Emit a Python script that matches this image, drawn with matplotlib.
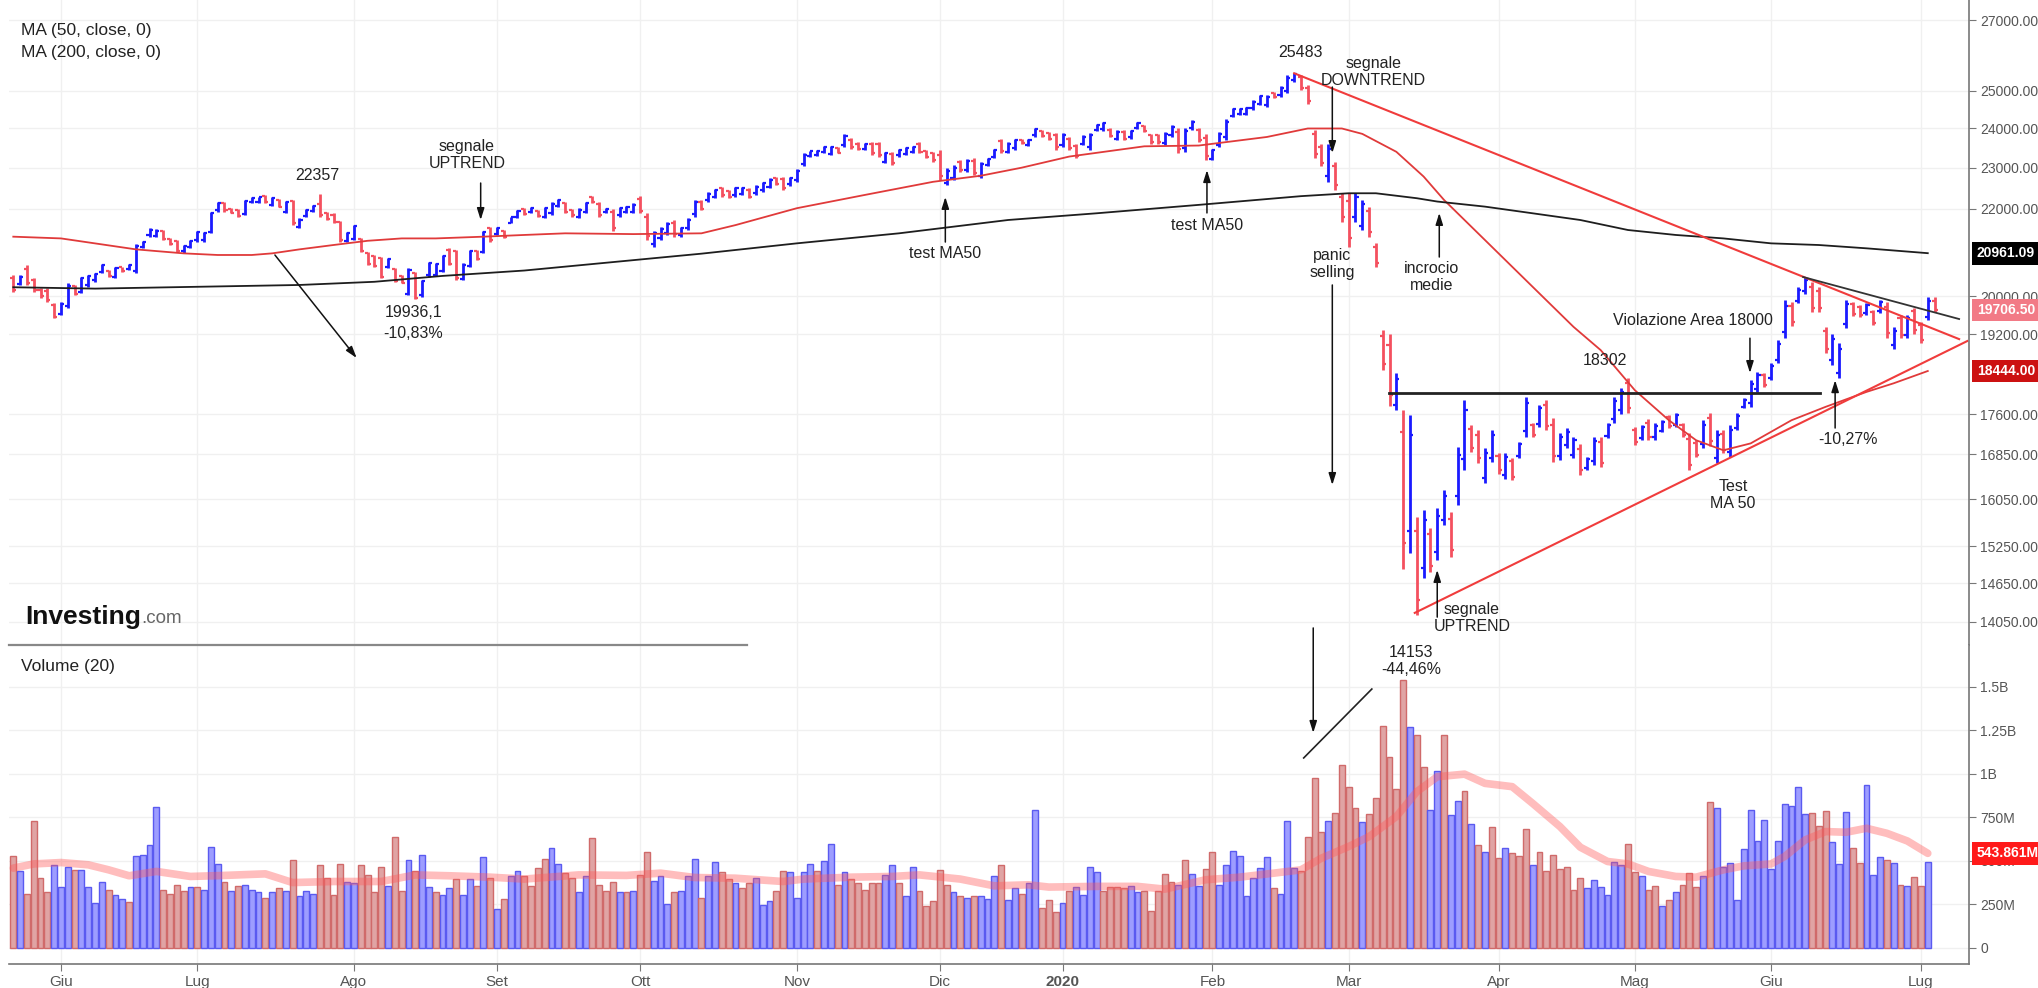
import numpy as np
import matplotlib
matplotlib.use("Agg")
import matplotlib.pyplot as plt
from matplotlib.lines import Line2D
from matplotlib.ticker import FixedLocator, NullLocator, FuncFormatter
from matplotlib.transforms import blended_transform_factory

plt.rcParams['font.family'] = ['Liberation Sans', 'DejaVu Sans']

# FTSE MIB daily bars, 23 May 2019 - 3 Jul 2020 (x = trading-day index)
high = [
    20470, 20470, 20690, 20395, 20175, 20175, 19848, 19885, 20285, 20250,
    20432, 20470, 20507, 20708, 20581, 20656, 20656, 20708, 21170, 21248,
    21534, 21510, 21495, 21300, 21263, 21148, 21263, 21480, 21456, 21930,
    22168, 22150, 22010, 21985, 22208, 22270, 22290, 22330, 22270, 22225,
    22190, 22208, 21770, 21985, 22090, 22357, 21930, 21889, 21715, 21456,
    21612, 21300, 20995, 20920, 20882, 20844, 20619, 20470, 20619, 20545,
    20358, 20768, 20745, 20920, 21072, 21033, 20731, 21033, 21033, 21480,
    21573, 21573, 21495, 21810, 21968, 22010, 22048, 21968, 22048, 22168,
    22224, 22168, 21985, 22010, 22168, 22305, 22168, 22010, 21990, 22048,
    22065, 22128, 22305, 21900, 21480, 21573, 21690, 21730, 21573, 21780,
    22208, 22208, 22390, 22470, 22530, 22450, 22520, 22520, 22490, 22570,
    22650, 22740, 22780, 22780, 22780, 22960, 23360, 23430, 23450, 23560,
    23560, 23520, 23860, 23750, 23640, 23620, 23640, 23640, 23400, 23400,
    23480, 23520, 23560, 23640, 23440, 23400, 23440, 22980, 23060, 23190,
    23210, 23240, 23150, 23240, 23480, 23730, 23640, 23730, 23730, 23730,
    24020, 23960, 23910, 23890, 23890, 23780, 23610, 23830, 23890, 24130,
    24170, 24000, 23960, 23960, 23960, 24170, 24090, 23860, 23860, 23910,
    24090, 24000, 24020, 24220, 24000, 23860, 23480, 23910, 24260, 24530,
    24530, 24575, 24750, 24890, 24890, 24980, 25120, 25430, 25483, 25430,
    25150, 23960, 23610, 23610, 23150, 22370, 22370, 22370, 22208, 22048,
    21186, 19281, 19200, 18400, 17675, 17580, 15740, 15855, 15560, 15890,
    16200, 15820, 16980, 17870, 17390, 17295, 16960, 17295, 16870, 16870,
    16790, 17075, 17930, 17430, 17770, 17870, 17520, 17240, 17330, 17165,
    17035, 16795, 17165, 17165, 17430, 17930, 18100, 18302, 17350, 17390,
    17500, 17430, 17484, 17580, 17620, 17430, 17240, 17108, 17484, 17620,
    17295, 17295, 17390, 17620, 17910, 18260, 18420, 18400, 18600, 19070,
    19920, 19880, 20200, 20420, 20310, 20200, 19340, 19200, 19010, 19920,
    19880, 19820, 19860, 19705, 19920, 19880, 19340, 19600, 19600, 19760,
    19450, 19980, 19980]
low = [
    20100, 20250, 20250, 20100, 19955, 19885, 19528, 19600, 19740, 20030,
    20065, 20211, 20320, 20507, 20432, 20395, 20545, 20581, 20507, 21072,
    21340, 21325, 21263, 21148, 20995, 20972, 21072, 21225, 21225, 21418,
    21930, 21930, 21889, 21810, 21850, 22128, 22128, 22128, 22065, 22030,
    21889, 21612, 21534, 21794, 21930, 21810, 21730, 21652, 21225, 21225,
    21263, 20995, 20694, 20656, 20395, 20619, 20320, 20285, 20030, 19936,
    19993, 20432, 20447, 20545, 20694, 20358, 20358, 20656, 20806, 20957,
    21225, 21380, 21300, 21652, 21770, 21850, 21889, 21810, 21770, 21850,
    22048, 21889, 21810, 21770, 21889, 22128, 21810, 21889, 21470, 21810,
    21889, 21889, 21889, 21263, 21100, 21263, 21380, 21340, 21340, 21500,
    21810, 21968, 22170, 22250, 22290, 22250, 22290, 22330, 22250, 22330,
    22410, 22490, 22570, 22450, 22550, 22650, 23030, 23280, 23300, 23360,
    23310, 23360, 23520, 23470, 23440, 23440, 23310, 23280, 23110, 23060,
    23280, 23310, 23360, 23360, 23240, 23150, 22690, 22570, 22690, 22900,
    22900, 22820, 22740, 23030, 23240, 23360, 23360, 23444, 23600, 23540,
    23780, 23780, 23700, 23440, 23520, 23440, 23240, 23570, 23440, 23940,
    23940, 23780, 23700, 23700, 23740, 23980, 23910, 23610, 23610, 23570,
    23780, 23360, 23400, 23960, 23650, 23190, 23190, 23520, 23700, 24300,
    24350, 24350, 24490, 24620, 24575, 24800, 24840, 24940, 25250, 25025,
    24660, 23240, 23030, 22640, 22450, 21690, 21110, 21690, 21495, 21340,
    20656, 18460, 17750, 17675, 14880, 15130, 14153, 14725, 14820, 15016,
    15600, 15065, 15950, 16560, 16890, 16690, 16330, 16700, 16500, 16410,
    16380, 16775, 17170, 17170, 17360, 17295, 16700, 16740, 16960, 16775,
    16470, 16560, 16650, 16610, 17150, 17430, 17600, 17620, 17015, 17110,
    17110, 17110, 17260, 17330, 17350, 17165, 16560, 16795, 16960, 17000,
    16690, 16870, 16800, 17295, 17710, 17740, 18030, 18120, 18260, 18600,
    19120, 19370, 19860, 20050, 19660, 19660, 18810, 18560, 18300, 19320,
    19570, 19550, 19600, 19390, 19640, 19120, 18900, 19110, 19110, 19200,
    19010, 19490, 19660]
open_ = [
    20400, 20280, 20600, 20350, 20150, 20120, 19820, 19620, 19800, 20230,
    20100, 20250, 20350, 20530, 20560, 20420, 20640, 20600, 20560, 21100,
    21380, 21350, 21470, 21280, 21230, 21000, 21100, 21260, 21260, 21450,
    21960, 22130, 21990, 21970, 21870, 22150, 22150, 22310, 22090, 22200,
    21920, 22180, 21560, 21820, 21950, 22120, 21900, 21860, 21690, 21250,
    21290, 21280, 20970, 20900, 20860, 20640, 20600, 20450, 20060, 20520,
    20020, 20460, 20470, 20570, 21040, 21000, 20390, 20680, 21010, 20990,
    21550, 21400, 21470, 21670, 21790, 21990, 21910, 21940, 21810, 21900,
    22070, 22130, 21960, 21810, 21930, 22280, 22110, 21910, 21910, 21850,
    21910, 21920, 22240, 21800, 21160, 21310, 21430, 21670, 21380, 21540,
    21870, 22170, 22200, 22280, 22490, 22420, 22330, 22360, 22450, 22370,
    22450, 22530, 22750, 22730, 22590, 22700, 23080, 23300, 23320, 23390,
    23350, 23500, 23570, 23710, 23610, 23470, 23590, 23590, 23150, 23350,
    23310, 23340, 23390, 23600, 23410, 23360, 23330, 22630, 22750, 23150,
    22950, 23180, 22800, 23060, 23280, 23670, 23400, 23490, 23710, 23570,
    23820, 23930, 23880, 23820, 23580, 23730, 23550, 23610, 23510, 23970,
    23980, 23970, 23740, 23920, 23770, 24010, 24060, 23820, 23820, 23620,
    23830, 23900, 23490, 24000, 23950, 23760, 23230, 23580, 23780, 24330,
    24380, 24380, 24530, 24660, 24620, 24950, 24880, 25010, 25290, 25370,
    25080, 23850, 23520, 22790, 23050, 22270, 22180, 21790, 21600, 21940,
    21110, 19160, 18980, 17780, 17260, 15500, 15500, 14900, 15450, 15150,
    15690, 15710, 16100, 16760, 17310, 17200, 16420, 16790, 16810, 16480,
    16730, 16820, 17280, 17390, 17420, 17780, 17400, 16820, 17020, 16830,
    16950, 16600, 16730, 17080, 17190, 17510, 17680, 18200, 17300, 17150,
    17440, 17160, 17290, 17540, 17390, 17390, 17140, 17060, 17040, 17530,
    16780, 17230, 16890, 17340, 17740, 17820, 18090, 18360, 18310, 18670,
    19240, 19800, 19910, 20110, 20210, 20120, 19260, 18660, 18410, 19410,
    19830, 19780, 19640, 19660, 19680, 19770, 18970, 19530, 19180, 19680,
    19380, 19560, 19900]
close = [
    20150, 20420, 20300, 20150, 20000, 19930, 19560, 19840, 20220, 20060,
    20400, 20440, 20490, 20690, 20450, 20630, 20560, 20690, 21120, 21220,
    21500, 21480, 21290, 21170, 21020, 21120, 21240, 21450, 21420, 21890,
    22140, 21960, 21900, 21830, 22180, 22250, 22270, 22150, 22250, 22050,
    22160, 21650, 21740, 21960, 22070, 21840, 21760, 21680, 21260, 21430,
    21590, 21020, 20720, 20680, 20420, 20820, 20340, 20300, 20580, 19970,
    20330, 20740, 20720, 20890, 20720, 20400, 20700, 21000, 20830, 21440,
    21260, 21550, 21330, 21790, 21950, 21870, 22020, 21830, 22010, 22120,
    22200, 21930, 21840, 21970, 22130, 22150, 21860, 21990, 21550, 22010,
    22040, 22090, 21950, 21360, 21420, 21530, 21640, 21400, 21540, 21740,
    22150, 22000, 22360, 22440, 22330, 22280, 22490, 22490, 22290, 22530,
    22610, 22700, 22600, 22500, 22750, 22910, 23310, 23410, 23430, 23530,
    23520, 23380, 23810, 23510, 23470, 23590, 23360, 23330, 23360, 23110,
    23450, 23490, 23530, 23400, 23270, 23190, 22800, 22920, 23000, 22940,
    23160, 22880, 23090, 23210, 23440, 23420, 23600, 23690, 23620, 23700,
    23980, 23810, 23730, 23510, 23830, 23490, 23300, 23790, 23820, 24100,
    24140, 23810, 23920, 23740, 23930, 24140, 23940, 23650, 23650, 23860,
    24040, 23460, 23930, 24180, 23700, 23290, 23440, 23850, 24180, 24500,
    24500, 24540, 24710, 24850, 24840, 24830, 25080, 25360, 25450, 25090,
    24730, 23350, 23120, 23460, 22560, 21790, 21300, 22270, 22100, 21450,
    20740, 18580, 17970, 18290, 15300, 17210, 14390, 15690, 14930, 15760,
    16110, 15180, 16830, 17670, 16970, 16780, 16870, 17200, 16560, 16800,
    16440, 17030, 17820, 17210, 17710, 17380, 16820, 17160, 17270, 17110,
    16560, 16760, 17090, 16690, 17390, 17860, 18030, 17720, 17070, 17350,
    17170, 17380, 17450, 17370, 17580, 17200, 16660, 16840, 17400, 17090,
    17200, 16930, 17300, 17570, 17880, 18180, 18360, 18160, 18550, 19000,
    19800, 19450, 20150, 20360, 19760, 19740, 18890, 19100, 18900, 19830,
    19620, 19590, 19820, 19440, 19880, 19230, 19270, 19180, 19530, 19280,
    19080, 19910, 19706.50]

# volume in millions, and up/down colour of each volume bar
volume = [
    529, 440, 311, 732, 401, 319, 476, 350, 468, 449,
    449, 350, 258, 378, 334, 304, 281, 266, 529, 537,
    589, 808, 334, 311, 363, 325, 350, 350, 334, 583,
    483, 378, 325, 357, 363, 334, 319, 290, 319, 344,
    325, 506, 296, 325, 311, 476, 401, 304, 483, 378,
    373, 476, 422, 319, 468, 357, 640, 325, 506, 445,
    537, 350, 319, 304, 342, 396, 304, 396, 357, 522,
    401, 224, 281, 411, 440, 411, 357, 461, 514, 573,
    483, 430, 401, 319, 411, 634, 363, 325, 378, 319,
    319, 325, 422, 552, 386, 411, 252, 319, 325, 411,
    514, 290, 411, 493, 434, 396, 373, 342, 373, 401,
    245, 268, 327, 441, 434, 290, 434, 483, 441, 501,
    598, 363, 434, 396, 373, 334, 373, 373, 418, 476,
    373, 296, 468, 327, 239, 268, 449, 363, 319, 296,
    290, 296, 296, 281, 411, 476, 277, 342, 311, 373,
    793, 229, 273, 206, 258, 327, 350, 306, 468, 434,
    327, 350, 350, 342, 357, 319, 330, 214, 327, 424,
    378, 363, 506, 424, 357, 455, 554, 363, 476, 560,
    529, 296, 401, 462, 522, 342, 311, 732, 459, 440,
    636, 975, 665, 732, 778, 1049, 923, 803, 726, 770,
    860, 1275, 1095, 912, 1538, 1267, 1223, 1042, 793, 1019,
    1223, 764, 847, 904, 713, 590, 554, 694, 516, 573,
    545, 529, 682, 478, 554, 440, 535, 455, 468, 334,
    401, 344, 388, 350, 306, 493, 478, 598, 434, 411,
    331, 357, 239, 277, 319, 363, 430, 350, 411, 837,
    803, 468, 487, 273, 568, 793, 612, 736, 453, 612,
    826, 818, 923, 770, 778, 703, 785, 608, 483, 783,
    573, 491, 936, 417, 522, 506, 491, 363, 354, 407,
    354, 493]
vol_dir = ("rbrrrrbbbrbbbbrbbrbbbbrrrrbrbbbrbrbbbrbrbrbbbrrrrb"
           "brrrrbrrbrbbrbbrbbrbrbrbbrrrrbbrrbbrrrrbrbrrbbbrbbb"
           "rbbrrbrrbbbrrbbbbrbbrbrrrrrbbrbbrrrrrbrbrbbbrbbrbb"
           "rrrbrbbbbrrrrbbrrrrrbrbbrrbbbbbbbbrbbb"
           "rrrrbrrrrbrrrrrrbrrbbrbbrbrbrrbrrrbrrrrrrrbbbbbbrr"
           "brrbrbrrrbrbbbbbbbbbbbbbbrrrbbbrrbbbrbrbrrb")

# moving averages (trading day, value)
ma50_day = [0, 7, 18, 25, 30, 35, 38, 42, 47, 52, 57, 62, 69, 75, 81, 91, 101,
            106, 115, 125, 135, 142, 148, 155, 166, 174, 184, 190, 195, 198,
            203, 207, 210, 216, 223, 229, 233, 238, 243, 247, 251, 255, 261,
            266, 272, 276, 281]
ma50_val = [21340, 21300, 21048, 20957, 20920, 20920, 20957, 21048, 21148,
            21245, 21300, 21300, 21340, 21380, 21418, 21400, 21418, 21610,
            22010, 22330, 22650, 22800, 23000, 23280, 23540, 23560, 23780,
            24000, 24000, 23860, 23400, 22780, 22208, 21263, 20210, 19350,
            18866, 18064, 17484, 17108, 16923, 17050, 17484, 17740, 18030,
            18200, 18444.00]
ma200_day = [0, 12, 27, 42, 53, 63, 75, 86, 101, 115, 130, 146, 159, 174, 189,
             196, 200, 206, 209, 216, 223, 230, 237, 244, 251, 258, 265, 272,
             281]
ma200_val = [20200, 20170, 20210, 20250, 20320, 20450, 20570, 20730, 20950,
             21186, 21418, 21730, 21889, 22090, 22300, 22370, 22370, 22250,
             22170, 22048, 21889, 21730, 21495, 21380, 21300, 21186, 21148,
             21072, 20961.09]
volma_day = [0, 3, 7, 11, 14, 17, 21, 26, 31, 37, 41, 47, 54, 59, 64, 70, 75,
             83, 90, 95, 100, 106, 113, 116, 123, 129, 133, 139, 144, 149, 152,
             159, 165, 169, 175, 180, 185, 189, 192, 196, 199, 203, 206, 209,
             213, 216, 220, 223, 227, 230, 234, 237, 240, 244, 247, 251, 254,
             258, 260, 263, 266, 269, 272, 275, 278, 281]
volma_val = [459, 483, 491, 478, 449, 415, 440, 411, 417, 426, 376, 382, 382,
             420, 415, 407, 396, 420, 417, 430, 405, 401, 382, 396, 407, 411,
             420, 396, 357, 363, 350, 354, 354, 338, 392, 407, 430, 449, 516,
             583, 640, 755, 898, 984, 999, 946, 927, 831, 698, 579, 497, 483,
             440, 411, 407, 449, 472, 483, 526, 621, 669, 665, 688, 659, 615,
             543.861]

# trend lines drawn on the chart (day, price)
down_line = ([188, 285.6], [25483, 19094])
wedge_line = ([262.7, 285.6], [20426, 19515])
up_line = ([205.7, 286.8], [14184, 19054])
area_18000 = ([201.9, 265.2], [18000, 18000])

month_start = [7, 27, 50, 71, 92, 115, 136, 154, 176, 196, 218, 238, 258, 280]
month_labels = ['Giu', 'Lug', 'Ago', 'Set', 'Ott', 'Nov', 'Dic', '2020',
                'Feb', 'Mar', 'Apr', 'Mag', 'Giu', 'Lug']
price_ticks = [14050, 14650, 15250, 16050, 16850, 17600, 19200, 20000, 22000,
               23000, 24000, 25000, 27000]
vol_ticks = [0, 250, 500, 750, 1000, 1250, 1500]
vol_tick_labels = ['0', '250M', '500M', '750M', '1B', '1.25B', '1.5B']

BLUE = '#1a1aff'
RED = '#f4505f'
GRID = '#f0f0f0'
AXC = '#777777'
TXT = '#222222'

days = np.arange(len(close))
up = np.array(close) >= np.array(open_)
cols = np.where(up, BLUE, RED)

W, H = 2038, 988
fig = plt.figure(figsize=(W / 100, H / 100), dpi=100)
ax = fig.add_axes([9 / W, 1 - 645 / H, 1960 / W, 645 / H])
axv = fig.add_axes([9 / W, 1 - 964 / H, 1960 / W, 319 / H], sharex=ax)

# ---- price panel ----
ax.set_yscale('log')
ax.set_ylim(13698, 27593)
ax.set_xlim(-0.63, 287.05)
ax.yaxis.set_major_locator(FixedLocator(price_ticks))
ax.yaxis.set_minor_locator(NullLocator())
ax.yaxis.set_major_formatter(FuncFormatter(lambda v, p: f'{v:.2f}'))
ax.yaxis.tick_right()
ax.set_xticks(month_start)
ax.tick_params(axis='x', length=0, labelbottom=False)
ax.tick_params(axis='y', length=5, color=AXC, labelcolor='#555', labelsize=10, pad=3)
ax.grid(True, color=GRID, lw=1.0)
ax.set_axisbelow(True)
for s in ['left', 'top', 'bottom']:
    ax.spines[s].set_visible(False)
ax.spines['right'].set_color(AXC)
ax.spines['right'].set_linewidth(1.2)

ax.vlines(days, low, high, colors=cols, lw=2.0)
ax.hlines(open_, days - 0.45, days, colors=cols, lw=1.6)
ax.hlines(close, days, days + 0.45, colors=cols, lw=1.6)

ax.plot(ma50_day, ma50_val, color='#e03a3a', lw=1.3)
ax.plot(ma200_day, ma200_val, color='#1e1e1e', lw=1.3)
ax.plot(*down_line, color='#f03c3c', lw=1.5)
ax.plot(*up_line, color='#f03c3c', lw=1.5)
ax.plot(*wedge_line, color='#333333', lw=1.3)
ax.plot(*area_18000, color='#222222', lw=2.0)

ax.text(12 / 1960, 1 - 30 / 645, 'MA (50, close, 0)', transform=ax.transAxes,
        fontsize=12.5, va='center', color=TXT)
ax.text(12 / 1960, 1 - 52 / 645, 'MA (200, close, 0)', transform=ax.transAxes,
        fontsize=12.5, va='center', color=TXT)

logo = ax.text(16 / 1960, 1 - 617 / 645, 'Investing', transform=ax.transAxes,
               fontsize=19, fontweight='bold', va='center', color='#111111')
ax.annotate('.com', xy=(1.0, 0.24), xycoords=logo, fontsize=13.5, color='#666666',
            va='baseline', ha='left')


def note(axis, txt, x, y, **kw):
    axis.text(x, y, txt, ha='center', va='center', fontsize=11.5, color=TXT,
              linespacing=1.15, **kw)


def arrow(axis, x0, y0, x1, y1, **kw):
    axis.annotate('', xy=(x1, y1), xytext=(x0, y0),
                  arrowprops=dict(arrowstyle='-|>,head_length=0.7,head_width=0.22',
                                  color='#111111', lw=1.1, shrinkA=0, shrinkB=0),
                  **kw)


note(ax, '22357', 44.6, 22818)
note(ax, 'segnale\nUPTREND', 66.6, 23319)
arrow(ax, 68.6, 22620, 68.6, 21730)
note(ax, '19936,1', 58.7, 19664)
note(ax, '-10,83%', 58.7, 19221)
arrow(ax, 38.4, 20920, 50.4, 18706)
note(ax, 'test MA50', 136.8, 20955)
arrow(ax, 136.8, 21216, 136.8, 22281)
note(ax, 'test MA50', 175.2, 21612)
arrow(ax, 175.2, 21897, 175.2, 22940)
note(ax, '25483', 188.9, 26078)
note(ax, 'segnale\nDOWNTREND', 199.6, 25518)
arrow(ax, 193.6, 25105, 193.6, 23369)
note(ax, 'panic\nselling', 193.6, 20718)
arrow(ax, 193.6, 20250, 193.6, 16297)
note(ax, 'incrocio\nmedie', 208.2, 20426)
arrow(ax, 209.3, 20874, 209.3, 21897)
note(ax, '18302', 233.6, 18646)
note(ax, 'Violazione Area 18000', 246.5, 19492)
arrow(ax, 254.9, 19113, 254.9, 18404)
note(ax, '-10,27%', 269.3, 17113)
arrow(ax, 267.4, 17337, 267.4, 18261)
note(ax, 'Test\nMA 50', 252.4, 16122)
note(ax, 'segnale\nUPTREND', 214.1, 14105)
arrow(ax, 209.0, 14119, 209.0, 14861)

tr = blended_transform_factory(ax.transAxes, ax.transData)
box_kw = dict(transform=tr, ha='left', va='center', color='white', fontsize=10,
              fontweight='bold', clip_on=False)
ax.text(1.004, ma200_val[-1], f'{ma200_val[-1]:.2f}',
        bbox=dict(boxstyle='square,pad=0.32', fc='black', ec='none'), **box_kw)
ax.text(1.004, close[-1], f'{close[-1]:.2f}',
        bbox=dict(boxstyle='square,pad=0.32', fc='#f27a86', ec='none'), **box_kw)
ax.text(1.004, ma50_val[-1], f'{ma50_val[-1]:.2f}',
        bbox=dict(boxstyle='square,pad=0.32', fc='#cc1111', ec='none'), **box_kw)

# ---- volume panel ----
vdays = np.arange(len(volume))
fills = ['#9d9dff' if c == 'b' else '#e0a4a4' for c in vol_dir]
edges = ['#5a5af0' if c == 'b' else '#d06a6a' for c in vol_dir]
axv.bar(vdays, volume, width=0.86, color=fills, edgecolor=edges, lw=1.0)
axv.plot(volma_day, volma_val, color='#ff5a5a', alpha=0.4, lw=5.5,
         solid_capstyle='round')
axv.set_ylim(-92, 1741)
axv.yaxis.tick_right()
axv.yaxis.set_major_locator(FixedLocator(vol_ticks))
axv.set_yticklabels(vol_tick_labels)
axv.set_xticks(month_start)
axv.set_xticklabels(month_labels)
for lab in axv.get_xticklabels():
    if lab.get_text() == '2020':
        lab.set_fontweight('bold')
axv.tick_params(axis='x', length=5, color=AXC, labelcolor='#555', labelsize=11, pad=3)
axv.tick_params(axis='y', length=5, color=AXC, labelcolor='#555', labelsize=10, pad=3)
axv.grid(True, color=GRID, lw=1.0)
axv.set_axisbelow(True)
for s in ['left', 'top']:
    axv.spines[s].set_visible(False)
for s in ['right', 'bottom']:
    axv.spines[s].set_color(AXC)
    axv.spines[s].set_linewidth(1.2)

axv.text(12 / 1960, (964 - 667) / 319, 'Volume (20)', transform=axv.transAxes,
         fontsize=12.5, va='center', color=TXT)
trv = blended_transform_factory(axv.transAxes, axv.transData)
axv.text(1.004, volma_val[-1], f'{volma_val[-1]:.3f}M', transform=trv, ha='left',
         va='center', color='white', fontsize=10, fontweight='bold', clip_on=False,
         bbox=dict(boxstyle='square,pad=0.32', fc='#ff1a1a', ec='none'))

note(axv, '14153\n-44,46%', 205.2, 1650, clip_on=False)
axv.plot([189.4, 199.4], [1092, 1488], color='#222222', lw=1.2)
axv.annotate('', xy=(190.8, 1236), xycoords='data', xytext=(190.8, 13954),
             textcoords=ax.transData, annotation_clip=False,
             arrowprops=dict(arrowstyle='-|>,head_length=0.7,head_width=0.22',
                             color='#111111', lw=1.1, shrinkA=0, shrinkB=0))

fig.add_artist(Line2D([9 / W, 747 / W], [1 - 645 / H] * 2, color='#888888', lw=1.6))

fig.savefig('out.png', dpi=100, facecolor='white')
